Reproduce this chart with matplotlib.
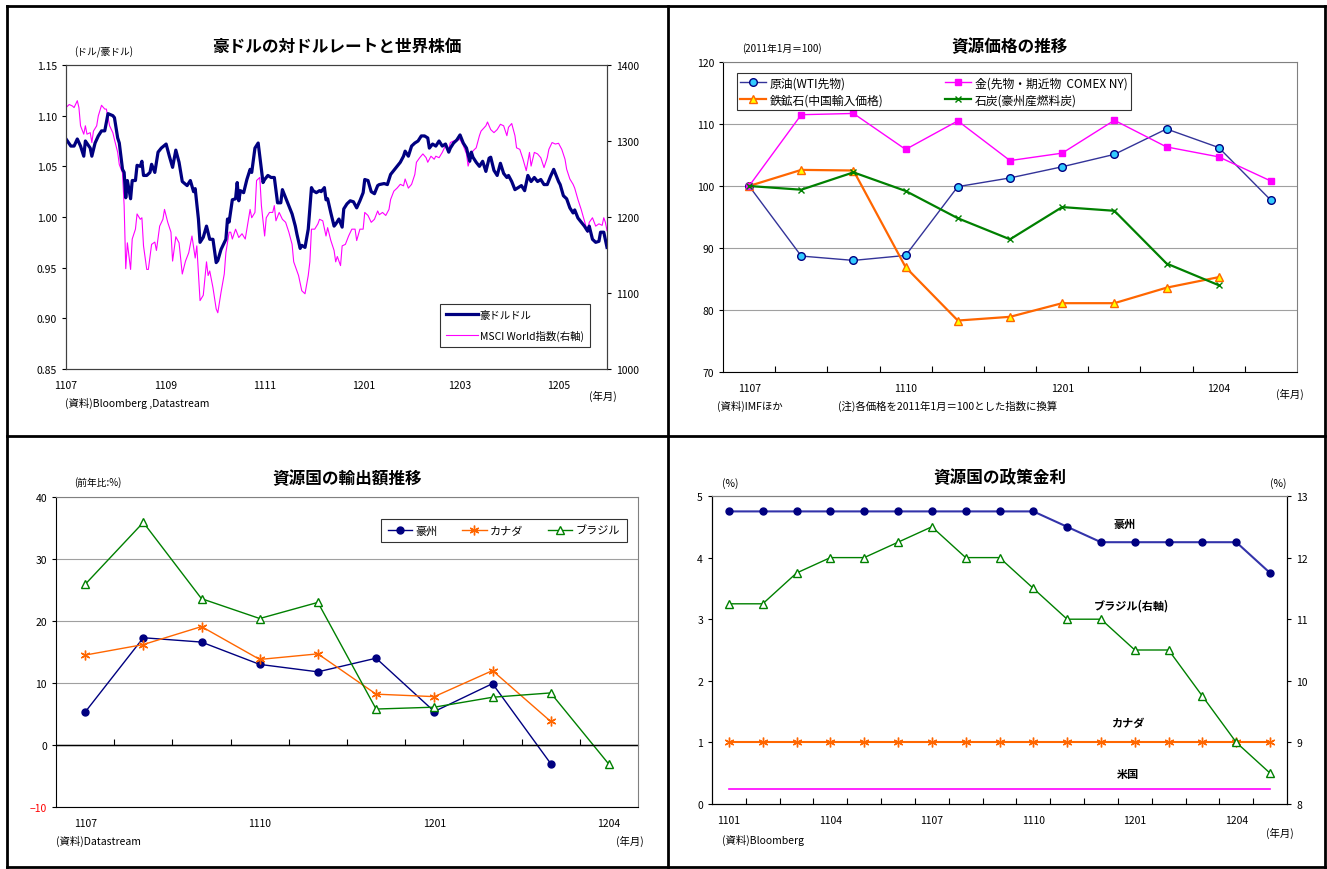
import numpy as np
import pandas as pd
import matplotlib
matplotlib.use('Agg')
import matplotlib.pyplot as plt
from matplotlib.lines import Line2D

plt.rcParams['font.family'] = ['Noto Sans CJK JP', 'DejaVu Sans']
plt.rcParams['font.size'] = 7.5

# ---- panel 1: AUD/USD and MSCI World (days since 2011-07-01)
start = pd.Timestamp('2011-07-01')
aud_day = [0, 3, 5, 7, 9, 11, 12, 15, 16, 18,
           20, 22, 24, 26, 29, 30, 32, 33, 35, 36,
           37, 38, 40, 41, 43, 44, 46, 47, 48, 50,
           52, 53, 55, 57, 59, 62, 64, 66, 68, 70,
           72, 75, 77, 79, 80, 82, 83, 85, 87, 89,
           91, 93, 94, 96, 99, 100, 101, 103, 105, 106,
           107, 108, 110, 112, 114, 115, 117, 119, 120, 122,
           123, 125, 127, 129, 131, 133, 134, 136, 138, 140,
           142, 143, 145, 146, 148, 150, 152, 153, 155, 157,
           158, 160, 161, 162, 164, 166, 167, 169, 171, 172,
           174, 176, 178, 180, 182, 184, 185, 187, 189, 191,
           193, 194, 197, 199, 201, 202, 205, 207, 209, 210,
           212, 214, 216, 218, 220, 222, 224, 225, 227, 229,
           231, 233, 235, 237, 238, 240, 242, 244, 246, 248,
           250, 251, 252, 254, 256, 258, 260, 262, 263, 265,
           267, 269, 271, 273, 274, 276, 278, 280, 282, 284,
           286, 288, 290, 292, 294, 296, 298, 300, 302, 305,
           306, 308, 310, 312, 314, 315, 317, 319, 321, 323,
           324, 326, 328, 330, 331, 333, 335]
aud_rate = [1.077, 1.070, 1.070, 1.077, 1.070, 1.060, 1.075, 1.068, 1.060, 1.073,
            1.080, 1.085, 1.085, 1.102, 1.100, 1.098, 1.078, 1.073, 1.047, 1.044,
            1.019, 1.036, 1.018, 1.036, 1.036, 1.051, 1.050, 1.055, 1.041, 1.041,
            1.044, 1.052, 1.044, 1.064, 1.068, 1.072, 1.060, 1.049, 1.066, 1.054,
            1.035, 1.031, 1.036, 1.025, 1.028, 0.998, 0.975, 0.980, 0.991, 0.978,
            0.978, 0.955, 0.957, 0.968, 0.978, 0.998, 0.995, 1.017, 1.018, 1.034,
            1.016, 1.026, 1.024, 1.037, 1.047, 1.044, 1.068, 1.073, 1.060, 1.034,
            1.037, 1.041, 1.039, 1.039, 1.014, 1.014, 1.027, 1.019, 1.011, 1.003,
            0.991, 0.983, 0.969, 0.972, 0.970, 0.988, 1.029, 1.026, 1.024, 1.026,
            1.025, 1.029, 1.017, 1.018, 1.004, 0.991, 0.993, 0.998, 0.990, 1.008,
            1.013, 1.016, 1.015, 1.009, 1.016, 1.024, 1.037, 1.036, 1.025, 1.023,
            1.031, 1.032, 1.033, 1.032, 1.042, 1.044, 1.050, 1.054, 1.060, 1.065,
            1.060, 1.070, 1.073, 1.075, 1.080, 1.080, 1.078, 1.068, 1.072, 1.070,
            1.075, 1.070, 1.072, 1.064, 1.068, 1.073, 1.076, 1.081, 1.073, 1.068,
            1.055, 1.064, 1.059, 1.054, 1.050, 1.055, 1.045, 1.058, 1.059, 1.046,
            1.041, 1.053, 1.043, 1.039, 1.041, 1.035, 1.027, 1.029, 1.031, 1.026,
            1.041, 1.035, 1.039, 1.035, 1.037, 1.032, 1.032, 1.040, 1.047, 1.035,
            1.032, 1.021, 1.018, 1.009, 1.004, 1.007, 0.999, 0.995, 0.991, 0.986,
            0.991, 0.978, 0.975, 0.976, 0.985, 0.985, 0.970]
msci_day = [0, 2, 4, 5, 7, 8, 9, 11, 12, 13,
            15, 16, 17, 19, 20, 22, 24, 25, 27, 29,
            30, 32, 33, 35, 36, 37, 38, 40, 41, 43,
            44, 46, 47, 48, 50, 51, 53, 55, 56, 58,
            60, 61, 63, 65, 66, 68, 70, 72, 74, 76,
            78, 80, 81, 83, 85, 87, 88, 89, 91, 93,
            94, 96, 98, 99, 101, 102, 103, 105, 107, 109,
            111, 112, 114, 115, 117, 118, 120, 121, 123, 124,
            126, 128, 129, 130, 132, 134, 136, 138, 140, 141,
            143, 144, 146, 147, 148, 150, 151, 152, 154, 156,
            157, 159, 161, 162, 164, 166, 167, 168, 170, 171,
            173, 175, 177, 179, 180, 182, 184, 185, 187, 189,
            191, 193, 194, 196, 198, 200, 201, 203, 205, 207,
            209, 210, 212, 214, 216, 217, 219, 221, 223, 224,
            226, 228, 229, 231, 233, 235, 237, 238, 240, 242,
            244, 246, 248, 249, 250, 252, 254, 256, 257, 260,
            261, 263, 265, 267, 269, 271, 273, 274, 276, 278,
            279, 281, 283, 285, 287, 288, 290, 292, 294, 296,
            298, 299, 301, 303, 305, 307, 309, 310, 312, 314,
            315, 317, 319, 321, 323, 324, 326, 328, 330, 332,
            333, 334, 335]
msci_index = [1344, 1348, 1346, 1344, 1353, 1344, 1320, 1309, 1320, 1309,
              1311, 1298, 1313, 1320, 1333, 1347, 1342, 1342, 1320, 1311,
              1302, 1285, 1269, 1258, 1215, 1132, 1166, 1131, 1171, 1184,
              1204, 1197, 1199, 1162, 1131, 1131, 1164, 1167, 1156, 1188,
              1197, 1210, 1193, 1180, 1142, 1174, 1166, 1125, 1142, 1153,
              1175, 1146, 1162, 1090, 1097, 1141, 1123, 1129, 1107, 1079,
              1074, 1101, 1125, 1153, 1180, 1180, 1171, 1184, 1173, 1178,
              1171, 1184, 1210, 1199, 1206, 1248, 1252, 1215, 1175, 1199,
              1206, 1206, 1215, 1195, 1206, 1197, 1193, 1180, 1164, 1141,
              1129, 1123, 1103, 1101, 1099, 1123, 1141, 1184, 1184, 1191,
              1197, 1195, 1175, 1186, 1169, 1156, 1141, 1148, 1136, 1162,
              1164, 1175, 1184, 1184, 1169, 1184, 1184, 1206, 1202, 1193,
              1197, 1208, 1203, 1206, 1202, 1210, 1223, 1234, 1238, 1243,
              1241, 1250, 1238, 1243, 1256, 1272, 1278, 1283, 1278, 1272,
              1280, 1276, 1280, 1278, 1285, 1294, 1289, 1298, 1300, 1301,
              1302, 1294, 1283, 1267, 1274, 1287, 1291, 1307, 1313, 1320,
              1325, 1315, 1311, 1315, 1322, 1320, 1307, 1318, 1323, 1307,
              1291, 1289, 1276, 1261, 1285, 1267, 1285, 1283, 1278, 1265,
              1278, 1289, 1298, 1296, 1297, 1289, 1276, 1263, 1250, 1243,
              1238, 1223, 1210, 1195, 1180, 1193, 1199, 1188, 1191, 1189,
              1199, 1193, 1182]

# ---- panel 2: resource prices (2011/01 = 100)
res_months = ['1107', '1108', '1109', '1110', '1111', '1112',
              '1201', '1202', '1203', '1204', '1205']
wti = [100, 88.7, 88.0, 88.8, 99.9, 101.3, 103.1, 105.1, 109.2, 106.2, 97.7]
gold = [100, 111.5, 111.7, 105.9, 110.5, 104.1, 105.3, 110.6, 106.3, 104.7, 100.8]
iron = [100, 102.6, 102.5, 86.9, 78.3, 78.9, 81.1, 81.1, 83.6, 85.3, np.nan]
coal = [100, 99.4, 102.2, 99.2, 94.8, 91.4, 96.6, 96.0, 87.5, 84.0, np.nan]

# ---- panel 3: exports, % y/y
exp_months = ['1107', '1108', '1109', '1110', '1111', '1112',
              '1201', '1202', '1203', '1204']
exp_aus = [5.3, 17.3, 16.6, 13.0, 11.8, 14.0, 5.4, 9.9, -3.0, np.nan]
exp_can = [14.5, 16.2, 19.1, 13.8, 14.7, 8.2, 7.8, 12.0, 3.8, np.nan]
exp_bra = [25.9, 35.9, 23.6, 20.4, 23.0, 5.8, 6.1, 7.7, 8.4, -3.1]

# ---- panel 4: policy rates
rate_months = ['1101', '1102', '1103', '1104', '1105', '1106', '1107', '1108', '1109',
               '1110', '1111', '1112', '1201', '1202', '1203', '1204', '1205']
rate_aus = [4.75, 4.75, 4.75, 4.75, 4.75, 4.75, 4.75, 4.75, 4.75,
            4.75, 4.5, 4.25, 4.25, 4.25, 4.25, 4.25, 3.75]
rate_can = [1.0] * 17
rate_us = [0.25] * 17
rate_bra = [11.25, 11.25, 11.75, 12.0, 12.0, 12.25, 12.5, 12.0, 12.0,
            11.5, 11.0, 11.0, 10.5, 10.5, 9.75, 9.0, 8.5]

W, H = 1327, 870
fig = plt.figure(figsize=(W / 100, H / 100), dpi=100)


def rect(l, t, r, b):
    return [l / W, 1 - b / H, (r - l) / W, (b - t) / H]


def ftext(x, y, s, **kw):
    fig.text(x / W, 1 - y / H, s, **kw)


def cat_axis(ax, labels, step):
    n = len(labels)
    ax.set_xlim(-0.5, n - 0.5)
    ax.set_xticks(np.arange(0.5, n - 0.5))
    ax.set_xticklabels([])
    ax.tick_params(axis='x', which='major', direction='in', length=4)
    ax.set_xticks(np.arange(0, n, step), minor=True)
    ax.set_xticklabels(labels[::step], minor=True)
    ax.tick_params(axis='x', which='minor', length=0, pad=8)


def gray_frame(ax, sides=('top', 'right')):
    for s in sides:
        ax.spines[s].set_color('#808080')


# ---------------- panel 1
ax1 = fig.add_axes(rect(66, 66, 607, 370))
ax1r = ax1.twinx()
ax1.set_zorder(ax1r.get_zorder() + 1)
ax1.patch.set_visible(False)
l1, = ax1.plot(aud_day, aud_rate, color='#000080', lw=2.3, label='豪ドルドル')
l2, = ax1r.plot(msci_day, msci_index, color='#FF00FF', lw=0.8, label='MSCI World指数(右軸)')
ax1.set_xlim(0, 335)
ax1.set_ylim(0.85, 1.15)
ax1.set_yticks(np.arange(0.85, 1.151, 0.05))
ax1.set_yticklabels(['%.2f' % v for v in np.arange(0.85, 1.151, 0.05)])
ax1r.set_ylim(1000, 1400)
ax1r.set_yticks(range(1000, 1401, 100))
tick_dates = pd.date_range(start, periods=6, freq='2MS')
ax1.set_xticks([(d - start).days for d in tick_dates])
ax1.set_xticklabels([d.strftime('%y%m') for d in tick_dates])
ax1.tick_params(axis='x', length=0, pad=8)
ax1.tick_params(axis='y', length=3)
ax1r.tick_params(axis='y', length=3)
for a in (ax1, ax1r):
    for s in a.spines.values():
        s.set_color('#404040')
leg = ax1.legend(handles=[l1, l2], loc='lower right', bbox_to_anchor=(0.978, 0.056),
                 fontsize=7.5, frameon=True, fancybox=False, edgecolor='black',
                 handlelength=3.0, borderpad=0.6, labelspacing=0.9, handletextpad=0.2)
leg.get_frame().set_linewidth(0.8)
ax1.set_title('豪ドルの対ドルレートと世界株価', fontsize=12, fontweight='bold', pad=10)
ftext(104, 52, '(ドル/豪ドル)', fontsize=7, ha='center', va='center')
ftext(65, 403, '(資料)Bloomberg ,Datastream', fontsize=7.5, va='center')
ftext(603, 396, '(年月)', fontsize=7.5, ha='center', va='center')

# ---------------- panel 2
ax2 = fig.add_axes(rect(723, 63, 1297, 373))
xr = np.arange(len(res_months))
ax2.plot(xr, wti, color='#333399', lw=1, marker='o', ms=5.5, mfc='#33CCFF',
         mec='#000080', label='原油(WTI先物)')
ax2.plot(xr, iron, color='#FF6600', lw=1.6, marker='^', ms=5.5, mfc='#FFFF00',
         mec='#FF6600', label='鉄鉱石(中国輸入価格)')
ax2.plot(xr, gold, color='#FF00FF', lw=1, marker='s', ms=5, mfc='#FF00FF',
         mec='#FF00FF', label='金(先物・期近物  COMEX NY)')
ax2.plot(xr, coal, color='#008000', lw=1.6, marker='x', ms=5, mec='#008000',
         label='石炭(豪州産燃料炭)')
ax2.set_ylim(70, 120)
ax2.set_yticks(range(70, 121, 10))
ax2.tick_params(axis='y', length=3)
cat_axis(ax2, res_months, 3)
ax2.grid(axis='y', color='#A0A0A0', lw=0.8)
ax2.set_axisbelow(True)
gray_frame(ax2)
leg2 = ax2.legend(loc='upper left', bbox_to_anchor=(0.014, 0.984), ncol=2, fontsize=8.5,
                  frameon=True, fancybox=False, edgecolor='black', handlelength=2.2,
                  columnspacing=5.2, borderpad=0.3, labelspacing=0.35, handletextpad=0.3)
leg2.get_frame().set_linewidth(0.8)
ax2.set_title('資源価格の推移', fontsize=12, fontweight='bold', pad=8)
ftext(782, 49, '(2011年1月＝100)', fontsize=7, ha='center', va='center')
ftext(717, 406, '(資料)IMFほか', fontsize=7.5, va='center')
ftext(838, 406, '(注)各価格を2011年1月＝100とした指数に換算', fontsize=7.5, va='center')
ftext(1290, 394, '(年月)', fontsize=7.5, ha='center', va='center')

# ---------------- panel 3
ax3 = fig.add_axes(rect(56, 498, 638, 808))
xe = np.arange(len(exp_months))
ax3.plot(xe, exp_aus, color='#000080', lw=1, marker='o', ms=5, mfc='#000080',
         mec='#000080', label='豪州')
ax3.plot(xe, exp_can, color='#FF6600', lw=1, marker=(6, 2, 0), ms=7, mec='#FF6600',
         label='カナダ')
ax3.plot(xe, exp_bra, color='#008000', lw=1, marker='^', ms=6, mfc='white',
         mec='#008000', label='ブラジル')
ax3.set_ylim(-10, 40)
ax3.set_yticks(range(-10, 41, 10))
ax3.tick_params(axis='y', length=3)
ax3.get_yticklabels()[0].set_color('red')
n3 = len(exp_months)
ax3.set_xlim(-0.5, n3 - 0.5)
ax3.set_xticks(np.arange(0, n3, 3))
ax3.set_xticklabels(exp_months[::3])
ax3.tick_params(axis='x', length=0, pad=8)
ax3.grid(axis='y', color='#A0A0A0', lw=0.8)
ax3.set_axisbelow(True)
ax3.axhline(0, color='black', lw=1)
sec3 = ax3.secondary_xaxis(0.2)
sec3.set_xticks(np.arange(0.5, n3 - 0.5))
sec3.set_xticklabels([])
sec3.tick_params(direction='in', length=4)
gray_frame(ax3)
leg3 = ax3.legend(loc='upper right', bbox_to_anchor=(0.99, 0.948), ncol=3, fontsize=8,
                  frameon=True, fancybox=False, edgecolor='black', handlelength=2.2,
                  columnspacing=2.2, borderpad=0.6, handletextpad=0.3)
leg3.get_frame().set_linewidth(0.8)
ax3.set_title('資源国の輸出額推移', fontsize=12, fontweight='bold', pad=10)
ftext(98, 483, '(前年比:%)', fontsize=7, ha='center', va='center')
ftext(56, 841, '(資料)Datastream', fontsize=7.5, va='center')
ftext(630, 841, '(年月)', fontsize=7.5, ha='center', va='center')

# ---------------- panel 4
ax4 = fig.add_axes(rect(712, 497, 1287, 805))
ax4r = ax4.twinx()
xm = np.arange(len(rate_months))
ax4.plot(xm, rate_aus, color='#3333AA', lw=1.5, marker='o', ms=5, mfc='#000080',
         mec='#000080')
ax4.plot(xm, rate_can, color='#FF6600', lw=1.5, marker=(6, 2, 0), ms=7, mec='#FF6600')
ax4.plot(xm, rate_us, color='#FF00FF', lw=1.2)
ax4r.plot(xm, rate_bra, color='#008000', lw=1, marker='^', ms=6, mfc='white',
          mec='#008000')
ax4.set_ylim(0, 5)
ax4.set_yticks(range(0, 6))
ax4r.set_ylim(8, 13)
ax4r.set_yticks(range(8, 14))
ax4.tick_params(axis='y', length=3)
ax4r.tick_params(axis='y', length=3)
cat_axis(ax4, rate_months, 3)
ax4.spines['top'].set_color('#808080')
ax4r.spines['top'].set_color('#808080')
ax4.text(11.7, 4.55, '豪州', fontsize=8, fontweight='bold', ha='center', va='center')
ax4.text(11.9, 3.23, 'ブラジル(右軸)', fontsize=8, fontweight='bold', ha='center', va='center')
ax4.text(11.8, 1.33, 'カナダ', fontsize=8, fontweight='bold', ha='center', va='center')
ax4.text(11.8, 0.49, '米国', fontsize=8, fontweight='bold', ha='center', va='center')
ax4.set_title('資源国の政策金利', fontsize=12, fontweight='bold', pad=10)
ftext(730, 484, '(%)', fontsize=7.5, ha='center', va='center')
ftext(1278, 484, '(%)', fontsize=7.5, ha='center', va='center')
ftext(722, 840, '(資料)Bloomberg', fontsize=7.5, va='center')
ftext(1280, 833, '(年月)', fontsize=7.5, ha='center', va='center')

# panel frames
frame_kw = dict(color='black', lw=2)
for xs, ys in [((7, 1325), (7, 7)), ((7, 1325), (868, 868)), ((7, 7), (7, 868)),
               ((1325, 1325), (7, 868)), ((668, 668), (7, 868)), ((7, 1325), (437, 437))]:
    fig.add_artist(Line2D([x / W for x in xs], [1 - y / H for y in ys], **frame_kw))

fig.savefig('out.png', dpi=100)
